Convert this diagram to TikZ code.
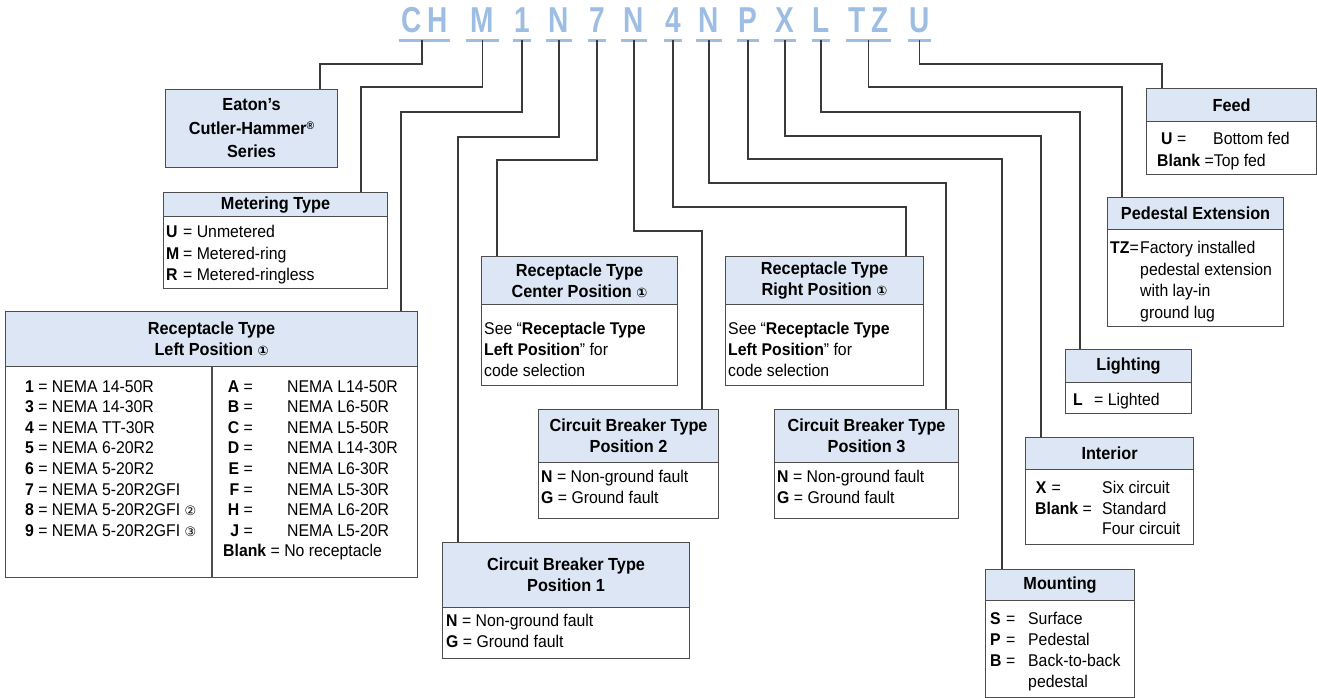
\documentclass[tikz,border=0pt]{standalone}
\usepackage{fontspec}
\setmainfont{Liberation Sans}[FakeStretch=0.93]
\newfontfamily\codefam{Liberation Sans}[FakeStretch=0.78]
\newfontfamily\symfam{DejaVu Sans}
\definecolor{hdrc}{HTML}{DCE6F4}
\definecolor{bordc}{HTML}{4D4D4D}
\definecolor{connc}{HTML}{3A3A3A}
\definecolor{codec}{HTML}{9DBDE3}
\newcommand{\cnum}[1]{{\symfam\fontsize{13}{13}\selectfont #1}}
\newcommand{\mybodyf}{\fontsize{17}{21}\selectfont}
\newcommand{\mytitlef}{\fontsize{17.5}{21}\selectfont\bfseries}
\begin{document}
\begin{tikzpicture}[x=1pt,y=-1pt,
  hdr/.style={draw=bordc, fill=hdrc, line width=1.1pt, inner sep=0pt, anchor=north west, align=center, font=\mytitlef},
  bodybox/.style={draw=bordc, fill=white, line width=1.1pt, inner sep=0pt, anchor=north west},
  txt/.style={anchor=north west, inner sep=0pt, align=left, font=\mybodyf},
  conn/.style={draw=connc, line width=1.1pt},
  boxline/.style={draw=bordc, line width=1.1pt},
  code/.style={anchor=base, inner sep=0pt, font={\codefam\bfseries\fontsize{36}{36}\selectfont}, text=codec},
  uline/.style={draw=codec, line width=3pt}
]
\useasboundingbox (0,0) rectangle (1317,698);

% ---- code letters ----
\node[code, minimum width=51pt] (cCH) at (424.5,33) {C\hspace{6pt}H};
\node[code, minimum width=32pt] (cM) at (482.5,33) {M};
\node[code, minimum width=17pt] (c1) at (522,33) {1};
\node[code, minimum width=25pt] (cN1) at (559,33) {N};
\node[code, minimum width=17pt] (c7) at (597,33) {7};
\node[code, minimum width=25pt] (cN2) at (634,33) {N};
\node[code, minimum width=17pt] (c4) at (673,33) {4};
\node[code, minimum width=25pt] (cN3) at (709,33) {N};
\node[code, minimum width=21pt] (cP) at (748,33) {P};
\node[code, minimum width=21pt] (cX) at (785,33) {X};
\node[code, minimum width=18pt] (cL) at (821,33) {L};
\node[code, minimum width=45pt] (cTZ) at (868.5,33) {T\hspace{5pt}Z};
\node[code, minimum width=23pt] (cU) at (919.5,33) {U};
\foreach \n in {cCH,cM,c1,cN1,c7,cN2,c4,cN3,cP,cX,cL,cTZ,cU}
  \draw[uline] ([yshift=-7.5pt]\n.base west) -- ([yshift=-7.5pt]\n.base east);

% ---- Eaton ----
\node[hdr, minimum width=172pt, minimum height=78pt, font={\fontsize{17.5}{23.5}\selectfont\bfseries}] (eatonH) at (165,89)
  {Eaton’s\\Cutler-Hammer\raisebox{5pt}{\fontsize{11}{11}\selectfont ®}\\Series};

% ---- Metering ----
\node[bodybox, minimum width=224pt, minimum height=72pt] (metB) at (163,216) {};
\node[hdr, minimum width=224pt, minimum height=24pt] (metH) at (163,192) {Metering Type};
\node[txt, font={\fontsize{17}{21.5}\selectfont}] (metT) at (166,225)
  {\makebox[17pt][l]{\textbf{U}}= Unmetered\\\makebox[17pt][l]{\textbf{M}}= Metered-ring\\\makebox[17pt][l]{\textbf{R}}= Metered-ringless};

% ---- Receptacle Left ----
\node[bodybox, minimum width=412pt, minimum height=211pt] (rlB) at (5,366) {};
\node[hdr, minimum width=412pt, minimum height=55pt] (rlH) at (5,311) {Receptacle Type\\Left Position \cnum{①}};
\draw[boxline] ([xshift=207pt]rlB.north west) -- ([xshift=207pt]rlB.south west);
\node[txt, font={\fontsize{17}{20.6}\selectfont}] (rlL) at (25,380)
  {\textbf{1} = NEMA 14-50R\\\textbf{3} = NEMA 14-30R\\\textbf{4} = NEMA TT-30R\\\textbf{5} = NEMA 6-20R2\\\textbf{6} = NEMA 5-20R2\\\textbf{7} = NEMA 5-20R2GFI\\\textbf{8} = NEMA 5-20R2GFI \cnum{②}\\\textbf{9} = NEMA 5-20R2GFI \cnum{③}};
\node[txt, font={\fontsize{17}{20.6}\selectfont}] (rlR) at (223,380)
  {\makebox[64pt][l]{\makebox[16pt][r]{\textbf{A}} =}NEMA L14-50R\\
   \makebox[64pt][l]{\makebox[16pt][r]{\textbf{B}} =}NEMA L6-50R\\
   \makebox[64pt][l]{\makebox[16pt][r]{\textbf{C}} =}NEMA L5-50R\\
   \makebox[64pt][l]{\makebox[16pt][r]{\textbf{D}} =}NEMA L14-30R\\
   \makebox[64pt][l]{\makebox[16pt][r]{\textbf{E}} =}NEMA L6-30R\\
   \makebox[64pt][l]{\makebox[16pt][r]{\textbf{F}} =}NEMA L5-30R\\
   \makebox[64pt][l]{\makebox[16pt][r]{\textbf{H}} =}NEMA L6-20R\\
   \makebox[64pt][l]{\makebox[16pt][r]{\textbf{J}} =}NEMA L5-20R\\
   \textbf{Blank} = No receptacle};

% ---- Receptacle Center ----
\node[bodybox, minimum width=196pt, minimum height=81pt] (rcB) at (481,304) {};
\node[hdr, minimum width=196pt, minimum height=48pt] (rcH) at (481,256) {Receptacle Type\\Center Position \cnum{①}};
\node[txt] (rcT) at (484,322) {See “\textbf{Receptacle Type}\\\textbf{Left Position}” for\\code selection};

% ---- Receptacle Right ----
\node[bodybox, minimum width=198pt, minimum height=81pt] (rrB) at (725,304) {};
\node[hdr, minimum width=198pt, minimum height=48pt] (rrH) at (725,256) {Receptacle Type\\Right Position \cnum{①}};
\node[txt] (rrT) at (728,322) {See “\textbf{Receptacle Type}\\\textbf{Left Position}” for\\code selection};

% ---- Circuit Breaker 1 ----
\node[bodybox, minimum width=247pt, minimum height=51pt] (cb1B) at (442,607) {};
\node[hdr, minimum width=247pt, minimum height=65pt] (cb1H) at (442,542) {Circuit Breaker Type\\Position 1};
\node[txt, font={\fontsize{17}{20.5}\selectfont}] (cb1T) at (446,614) {\textbf{N} = Non-ground fault\\\textbf{G} = Ground fault};

% ---- Circuit Breaker 2 ----
\node[bodybox, minimum width=180pt, minimum height=56pt] (cb2B) at (538,462) {};
\node[hdr, minimum width=180pt, minimum height=53pt] (cb2H) at (538,409) {Circuit Breaker Type\\Position 2};
\node[txt, font={\fontsize{17}{20.5}\selectfont}] (cb2T) at (541,470) {\textbf{N} = Non-ground fault\\\textbf{G} = Ground fault};

% ---- Circuit Breaker 3 ----
\node[bodybox, minimum width=184pt, minimum height=56pt] (cb3B) at (774,462) {};
\node[hdr, minimum width=184pt, minimum height=53pt] (cb3H) at (774,409) {Circuit Breaker Type\\Position 3};
\node[txt, font={\fontsize{17}{20.5}\selectfont}] (cb3T) at (777,470) {\textbf{N} = Non-ground fault\\\textbf{G} = Ground fault};

% ---- Feed ----
\node[bodybox, minimum width=170pt, minimum height=53pt] (feedB) at (1146,121) {};
\node[hdr, minimum width=170pt, minimum height=33pt] (feedH) at (1146,88) {Feed};
\node[txt, font={\fontsize{17}{22}\selectfont}] (feedT) at (1157,132)
  {\makebox[56pt][l]{\hspace*{4pt}\textbf{U} =}Bottom fed\\\textbf{Blank} =Top fed};

% ---- Pedestal Extension ----
\node[bodybox, minimum width=176pt, minimum height=97pt] (pedB) at (1107,229) {};
\node[hdr, minimum width=176pt, minimum height=32pt] (pedH) at (1107,197) {Pedestal Extension};
\node[txt, font={\fontsize{17}{21.7}\selectfont}] (pedT) at (1110,241)
  {\makebox[30pt][l]{\textbf{TZ}=}Factory installed\\\hspace*{30pt}pedestal extension\\\hspace*{30pt}with lay-in\\\hspace*{30pt}ground lug};

% ---- Lighting ----
\node[bodybox, minimum width=126pt, minimum height=31pt] (lightB) at (1065,382) {};
\node[hdr, minimum width=126pt, minimum height=33pt] (lightH) at (1065,349) {Lighting};
\node[txt] (lightT) at (1073,393) {\makebox[21pt][l]{\textbf{L}}= Lighted};

% ---- Interior ----
\node[bodybox, minimum width=168pt, minimum height=75pt] (intB) at (1025,469) {};
\node[hdr, minimum width=168pt, minimum height=32pt] (intH) at (1025,437) {Interior};
\node[txt, font={\fontsize{17}{20.5}\selectfont}] (intT) at (1035,481)
  {\makebox[67pt][l]{\makebox[12pt][c]{\textbf{X}} =}Six circuit\\\makebox[67pt][l]{\textbf{Blank} =}Standard\\\hspace*{67pt}Four circuit};

% ---- Mounting ----
\node[bodybox, minimum width=149pt, minimum height=97pt] (mntB) at (985,600) {};
\node[hdr, minimum width=149pt, minimum height=31pt] (mntH) at (985,569) {Mounting};
\node[txt] (mntT) at (990,612)
  {\makebox[38pt][l]{\makebox[16pt][l]{\textbf{S}}=}Surface\\\makebox[38pt][l]{\makebox[16pt][l]{\textbf{P}}=}Pedestal\\\makebox[38pt][l]{\makebox[16pt][l]{\textbf{B}}=}Back-to-back\\\hspace*{38pt}pedestal};

% ---- connectors ----
\draw[conn] ([xshift=-2.5pt,yshift=-7.5pt]cCH.base) -- ++(0,23.5) -| ([xshift=155pt]eatonH.north west);
\draw[conn] ([yshift=-7.5pt]cM.base) -- ++(0,46.5) -| ([xshift=198pt]metH.north west);
\draw[conn] ([yshift=-7.5pt]c1.base) -- ++(0,71.5) -| ([xshift=396pt]rlH.north west);
\draw[conn] ([yshift=-7.5pt]cN1.base) -- ++(0,96.5) -| ([xshift=16pt]cb1H.north west);
\draw[conn] ([yshift=-7.5pt]c7.base) -- ++(0,119.5) -| ([xshift=16pt]rcH.north west);
\draw[conn] ([yshift=-7.5pt]cN2.base) -- ++(0,190.5) -| ([xshift=164pt]cb2H.north west);
\draw[conn] ([yshift=-7.5pt]c4.base) -- ++(0,166.5) -| ([xshift=181pt]rrH.north west);
\draw[conn] ([yshift=-7.5pt]cN3.base) -- ++(0,142.5) -| ([xshift=172pt]cb3H.north west);
\draw[conn] ([yshift=-7.5pt]cP.base) -- ++(0,118.5) -| ([xshift=17pt]mntH.north west);
\draw[conn] ([yshift=-7.5pt]cX.base) -- ++(0,95.5) -| ([xshift=16pt]intH.north west);
\draw[conn] ([yshift=-7.5pt]cL.base) -- ++(0,71.5) -| ([xshift=15pt]lightH.north west);
\draw[conn] ([yshift=-7.5pt]cTZ.base) -- ++(0,46.5) -| ([xshift=15pt]pedH.north west);
\draw[conn] ([yshift=-7.5pt]cU.base) -- ++(0,23.5) -| ([xshift=16pt]feedH.north west);
\end{tikzpicture}
\end{document}
